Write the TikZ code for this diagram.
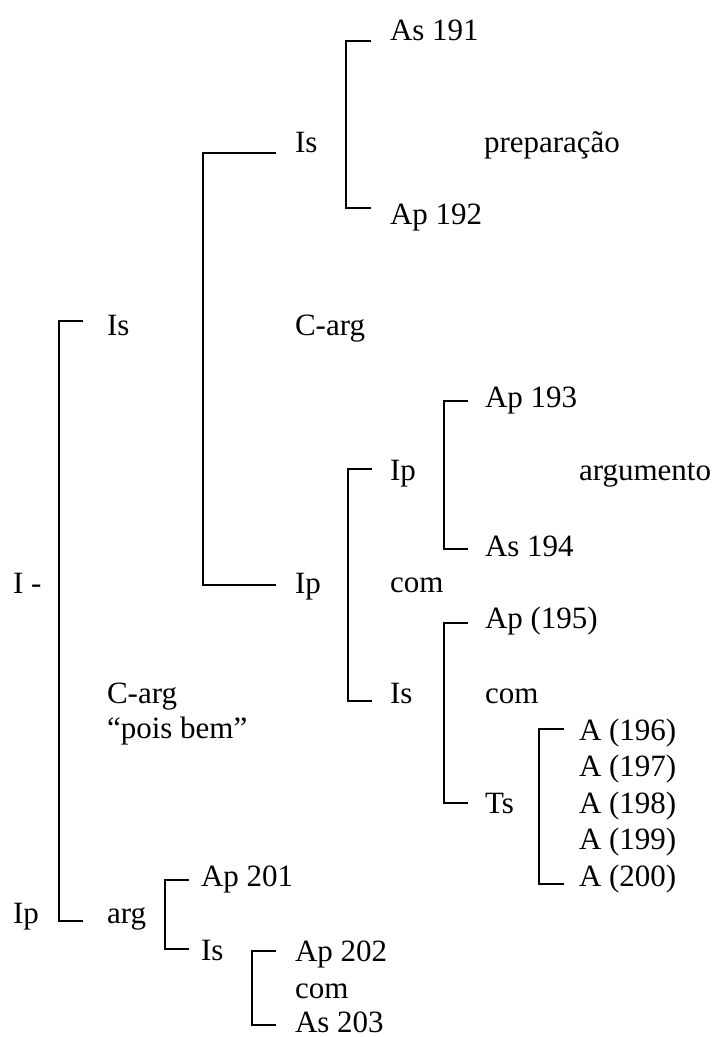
\documentclass[tikz,border=0pt]{standalone}
\usepackage{fontspec}
\setmainfont{Liberation Serif}
\begin{document}
\begin{tikzpicture}[x=1pt,y=-1pt,
  lbl/.style={anchor=base west, inner sep=0pt, outer sep=0pt, font=\fontsize{31}{36.5}\selectfont},
  brk/.style={line width=1.4pt, line join=miter}]
\useasboundingbox (0,0) rectangle (717,1037);
% labels
\node[lbl] (as191) at (390,40) {As 191};
\node[lbl] (is1) at (295,152) {Is};
\node[lbl] (prep) at (484,152) {preparação};
\node[lbl] (ap192) at (390,224) {Ap 192};
\node[lbl] (isL) at (107,335) {Is};
\node[lbl] (carg1) at (295,335) {C-arg};
\node[lbl] (ap193) at (485,407) {Ap 193};
\node[lbl] (ipM) at (390,480) {Ip};
\node[lbl] (argum) at (579,480) {argumento};
\node[lbl] (as194) at (485,556) {As 194};
\node[lbl] (Itop) at (13,593) {I -};
\node[lbl] (ip1) at (295,593) {Ip};
\node[lbl] (com1) at (390,592) {com};
\node[lbl] (ap195) at (485,628) {Ap (195)};
\node[lbl] (carg2) at (107,703) {C-arg};
\node[lbl] (is2) at (390,703) {Is};
\node[lbl] (com2) at (485,703) {com};
\node[lbl] (pois) at (107,738) {“pois bem”};
\node[lbl] (a196) at (579,740) {A (196)};
\node[lbl] (a197) at (579,776) {A (197)};
\node[lbl] (a198) at (579,813) {A (198)};
\node[lbl] (a199) at (579,849) {A (199)};
\node[lbl] (a200) at (579,886) {A (200)};
\node[lbl] (ts) at (485,813) {Ts};
\node[lbl] (ap201) at (201,886) {Ap 201};
\node[lbl] (ipL) at (13,923) {Ip};
\node[lbl] (arg) at (107,923) {arg};
\node[lbl] (is3) at (201,960) {Is};
\node[lbl] (ap202) at (295,961) {Ap 202};
\node[lbl] (com3) at (295,998) {com};
\node[lbl, text depth=0pt] (as203) at (295,1032) {As 203};
% bracket end points
\coordinate (b1a) at (371,41);  \coordinate (b1b) at (371,208);
\coordinate (b2a) at (276,153); \coordinate (b2b) at (276,585);
\coordinate (b3a) at (83,321);  \coordinate (b3b) at (83,921);
\coordinate (b4a) at (468,401); \coordinate (b4b) at (468,549);
\coordinate (b5a) at (372,469); \coordinate (b5b) at (372,701);
\coordinate (b6a) at (468,623); \coordinate (b6b) at (468,803);
\coordinate (b7a) at (564,729); \coordinate (b7b) at (564,884);
\coordinate (b8a) at (189,880); \coordinate (b8b) at (189,949);
\coordinate (b9a) at (276,951); \coordinate (b9b) at (276,1025);
% brackets
\draw[brk] (b1a) -- ++(-25,0) |- (b1b);
\draw[brk] (b2a) -- ++(-73,0) |- (b2b);
\draw[brk] (b3a) -- ++(-24,0) |- (b3b);
\draw[brk] (b4a) -- ++(-24,0) |- (b4b);
\draw[brk] (b5a) -- ++(-24,0) |- (b5b);
\draw[brk] (b6a) -- ++(-24,0) |- (b6b);
\draw[brk] (b7a) -- ++(-25,0) |- (b7b);
\draw[brk] (b8a) -- ++(-24,0) |- (b8b);
\draw[brk] (b9a) -- ++(-24,0) |- (b9b);
\end{tikzpicture}
\end{document}
